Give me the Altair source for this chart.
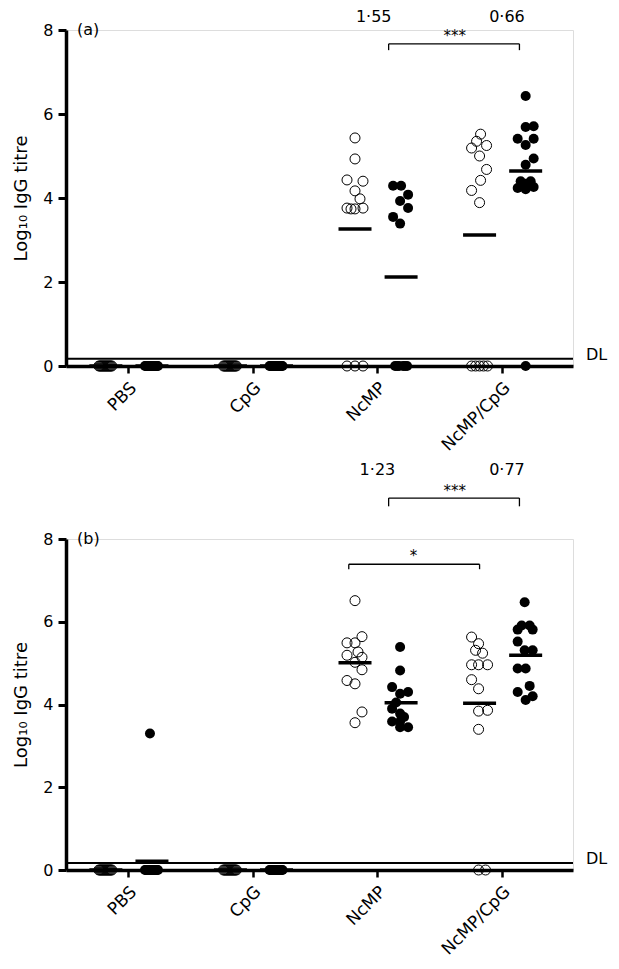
import altair as alt
import pandas as pd

FONT = "DejaVu Sans"

categories = ["PBS", "CpG", "NcMP", "NcMP/CpG"]
sides = ["open", "filled"]
side_offset = {"open": -0.18, "filled": 0.19}
PX_PER_UNIT = 124.7  # for converting jitter read in pixels

# ---------------- panel (a) ----------------
a_pbs_open = [0] * 14
a_pbs_open_j = [-7, -6, -5, -4, -3, -2, -1, 0, 1, 2, 3, 4, 5, 6]
a_pbs_filled = [0] * 14
a_pbs_filled_j = [-7, -6, -5, -4, -3, -2, -1, 0, 1, 2, 3, 4, 5, 6]
a_cpg_open = [0] * 14
a_cpg_open_j = [-7, -6, -5, -4, -3, -2, -1, 0, 1, 2, 3, 4, 5, 6]
a_cpg_filled = [0] * 14
a_cpg_filled_j = [-7, -6, -5, -4, -3, -2, -1, 0, 1, 2, 3, 4, 5, 6]
a_ncmp_open = [5.43, 4.93, 4.43, 4.40, 4.17, 3.98, 3.76, 3.74, 3.74, 3.76, 0, 0, 0]
a_ncmp_open_j = [0, 0, -8, 8, 0, 5, -8, -4, 0, 8, -8, 0, 8]
a_ncmp_filled = [4.29, 4.29, 4.08, 3.93, 3.76, 3.55, 3.39, 0, 0, 0, 0, 0, 0]
a_ncmp_filled_j = [-8, 0, 7, -1, 7, -8, -1, -6, -4, -2, 2, 4, 6]
a_mix_open = [5.52, 5.35, 5.19, 5.25, 5.00, 4.68, 4.42, 4.18, 3.89, 0, 0, 0, 0, 0]
a_mix_open_j = [1, -3, -8, 7, 0, 7, 1, -8, 0, -8, -4, 0, 4, 8]
a_mix_filled = [6.43, 5.69, 5.71, 5.41, 5.41, 5.26, 4.94, 4.79,
                4.24, 4.21, 4.26, 4.40, 4.40, 4.34, 0]
a_mix_filled_j = [0, 0, 8, -8, 8, 0, 8, 0, -8, 0, 8, -5, 5, 0, 0]
a_means = [0, 0, 0, 0, 3.26, 2.12, 3.12, 4.64]

# ---------------- panel (b) ----------------
b_pbs_open = [0] * 14
b_pbs_open_j = [-7, -6, -5, -4, -3, -2, -1, 0, 1, 2, 3, 4, 5, 6]
b_pbs_filled = [3.30] + [0] * 14
b_pbs_filled_j = [-2, -7, -6, -5, -4, -3, -2, -1, 0, 1, 2, 3, 4, 5, 6]
b_cpg_open = [0] * 14
b_cpg_open_j = [-7, -6, -5, -4, -3, -2, -1, 0, 1, 2, 3, 4, 5, 6]
b_cpg_filled = [0] * 14
b_cpg_filled_j = [-7, -6, -5, -4, -3, -2, -1, 0, 1, 2, 3, 4, 5, 6]
b_ncmp_open = [6.51, 5.64, 5.49, 5.49, 5.19, 5.27, 5.14, 5.02, 4.84, 4.58, 4.50, 3.82, 3.56]
b_ncmp_open_j = [0, 7, -8, 0, -8, 3, 7, 0, 7, -8, 0, 7, 0]
b_ncmp_filled = [5.39, 4.82, 4.42, 4.26, 4.30, 3.90, 3.78, 3.59, 3.59, 3.45, 3.45, 3.70, 4.05]
b_ncmp_filled_j = [-1, -1, -9, -1, 7, -9, -1, -9, -1, 7, -1, 3, -5]
b_mix_open = [5.63, 5.47, 5.31, 5.24, 4.96, 4.96, 4.96, 4.60, 4.38, 3.84, 3.86, 3.40, 0, 0]
b_mix_open_j = [-8, -1, -4, 3, -8, -1, 8, -8, -1, -1, 8, -1, -1, 6]
b_mix_filled = [6.47, 5.91, 5.91, 5.81, 5.81, 5.52, 5.31, 5.31, 4.87, 4.87, 4.30, 4.45, 4.11, 4.20]
b_mix_filled_j = [-1, -4, 4, -8, 7, -8, -1, 7, -8, 0, -8, 4, 0, 7]
b_means = [0, 0.21, 0, 0, 5.01, 4.04, 4.03, 5.19]

DL = 0.17

a_groups = {
    ("PBS", "open"): (a_pbs_open, a_pbs_open_j),
    ("PBS", "filled"): (a_pbs_filled, a_pbs_filled_j),
    ("CpG", "open"): (a_cpg_open, a_cpg_open_j),
    ("CpG", "filled"): (a_cpg_filled, a_cpg_filled_j),
    ("NcMP", "open"): (a_ncmp_open, a_ncmp_open_j),
    ("NcMP", "filled"): (a_ncmp_filled, a_ncmp_filled_j),
    ("NcMP/CpG", "open"): (a_mix_open, a_mix_open_j),
    ("NcMP/CpG", "filled"): (a_mix_filled, a_mix_filled_j),
}
b_groups = {
    ("PBS", "open"): (b_pbs_open, b_pbs_open_j),
    ("PBS", "filled"): (b_pbs_filled, b_pbs_filled_j),
    ("CpG", "open"): (b_cpg_open, b_cpg_open_j),
    ("CpG", "filled"): (b_cpg_filled, b_cpg_filled_j),
    ("NcMP", "open"): (b_ncmp_open, b_ncmp_open_j),
    ("NcMP", "filled"): (b_ncmp_filled, b_ncmp_filled_j),
    ("NcMP/CpG", "open"): (b_mix_open, b_mix_open_j),
    ("NcMP/CpG", "filled"): (b_mix_filled, b_mix_filled_j),
}

# annotations: (text, x, y, size)
a_texts = [("1·55", 2.97, 8.32, 16), ("0·66", 4.04, 8.32, 16), ("***", 3.62, 7.86, 15)]
b_texts = [("1·23", 3.0, 9.66, 16), ("0·77", 4.04, 9.66, 16), ("***", 3.62, 9.15, 15),
           ("*", 3.29, 7.58, 15)]
# brackets: (x_start, x_end, y_top, y_end)
a_brackets = [(3.09, 4.14, 7.67, 7.52)]
b_brackets = [(3.09, 4.14, 8.99, 8.79), (2.77, 3.82, 7.39, 7.27)]

X_MIN, X_MAX = 0.5, 4.57


def build_panel(groups, means, texts, brackets, label, height):
    rows = []
    for (cat, side), (vals, jit) in groups.items():
        base = categories.index(cat) + 1 + side_offset[side]
        for v, j in zip(vals, jit):
            rows.append({"x": base + j / PX_PER_UNIT, "y": v, "side": side})
    pts = pd.DataFrame(rows)
    mrows = []
    i = 0
    for cat in categories:
        for side in sides:
            mrows.append({"x": categories.index(cat) + 1 + side_offset[side], "y": means[i]})
            i += 1
    mdf = pd.DataFrame(mrows)

    xscale = alt.Scale(domain=[X_MIN, X_MAX], nice=False, zero=False)
    yscale = alt.Scale(domain=[0, 8], nice=False)
    xaxis = alt.Axis(values=[1, 2, 3, 4],
                     labelExpr="['PBS','CpG','NcMP','NcMP/CpG'][datum.value-1]",
                     title=None, grid=False, domainWidth=3.5, domainColor="black",
                     tickWidth=2.5, tickSize=7, tickColor="black",
                     labelAngle=315, labelAlign="right", labelBaseline="middle",
                     labelPadding=12, labelOffset=5, labelFontSize=17, labelFont=FONT,
                     labelColor="black")
    yaxis = alt.Axis(values=[0, 2, 4, 6, 8], title="Log₁₀ IgG titre", grid=False,
                     domainWidth=3.5, domainColor="black", tickWidth=3, tickSize=8,
                     tickColor="black", labelFontSize=16, labelFont=FONT,
                     labelColor="black", labelPadding=5, titleFont=FONT,
                     titleFontSize=18, titleFontWeight="normal", titleColor="black",
                     titlePadding=12)
    X = alt.X("x:Q", scale=xscale, axis=xaxis)
    Y = alt.Y("y:Q", scale=yscale, axis=yaxis)

    dl = alt.Chart(pd.DataFrame({"x": [X_MIN], "x2": [X_MAX], "y": [DL]})).mark_rule(
        color="black", strokeWidth=2).encode(x=X, x2="x2:Q", y=Y)
    dl_text = alt.Chart(pd.DataFrame({"x": [X_MAX], "y": [DL], "t": ["DL"]})).mark_text(
        align="left", baseline="middle", dx=13, dy=-4, fontSize=16, font=FONT,
        color="black").encode(x=X, y=Y, text="t:N")
    open_pts = alt.Chart(pts[pts.side == "open"]).mark_point(
        shape="circle", filled=False, stroke="black", strokeWidth=1, size=100,
        opacity=1).encode(x=X, y=Y)
    filled_pts = alt.Chart(pts[pts.side == "filled"]).mark_circle(
        color="black", size=100, opacity=1).encode(x=X, y=Y)
    mean_ticks = alt.Chart(mdf).mark_tick(
        orient="horizontal", size=33, thickness=3.5, color="black",
        opacity=1).encode(x=X, y=Y)
    tdf = pd.DataFrame([{"t": t, "x": x, "y": y, "s": s} for t, x, y, s in texts])
    ann = alt.Chart(tdf).mark_text(baseline="middle", align="center", font=FONT,
                                   color="black").encode(
        x=X, y=Y, text="t:N", size=alt.Size("s:Q", scale=None, legend=None))
    hrows = pd.DataFrame([{"x": a, "x2": b, "y": yt} for a, b, yt, ye in brackets])
    vrows = pd.DataFrame([{"x": xx, "y": yt, "y2": ye} for a, b, yt, ye in brackets
                          for xx in (a, b)])
    bh = alt.Chart(hrows).mark_rule(color="black", strokeWidth=1.3).encode(
        x=X, x2="x2:Q", y=Y)
    bv = alt.Chart(vrows).mark_rule(color="black", strokeWidth=1.3).encode(
        x=X, y=Y, y2="y2:Q")
    lab = alt.Chart(pd.DataFrame({"x": [X_MIN], "y": [8], "t": [label]})).mark_text(
        align="left", baseline="middle", dx=11, fontSize=16, font=FONT,
        color="black").encode(x=X, y=Y, text="t:N")

    return alt.layer(dl, open_pts, filled_pts, mean_ticks, bh, bv, ann, lab, dl_text).properties(
        width=507, height=height)


panel_a = build_panel(a_groups, a_means, a_texts, a_brackets, "(a)", 336)
panel_b = build_panel(b_groups, b_means, b_texts, b_brackets, "(b)", 331)

chart = alt.vconcat(panel_a, panel_b, spacing=173, bounds="flush").properties(
    padding={"left": 4, "top": 0, "right": 0, "bottom": 0}
).configure_view(stroke=None).configure(background="white")

chart.save("out.html", embed_options={"renderer": "svg", "actions": False})
